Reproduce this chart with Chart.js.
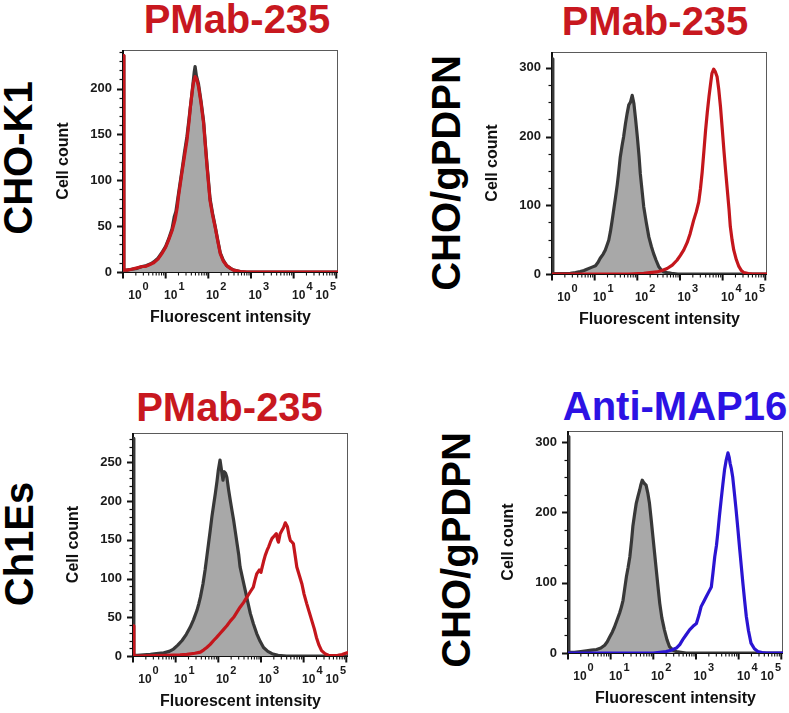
<!DOCTYPE html>
<html><head><meta charset="utf-8">
<script src="https://cdn.jsdelivr.net/npm/chart.js@4.4.0/dist/chart.umd.min.js"></script>
<style>
html,body{margin:0;padding:0;background:#fff;overflow:hidden;width:789px;height:713px;position:relative;}
.pane{position:absolute;}
.lbl{position:absolute;font-family:"Liberation Sans",Arial,Helvetica,sans-serif;font-weight:bold;font-size:40px;line-height:1;white-space:nowrap;transform:translate(-50%,-50%);}
.rot{transform:translate(-50%,-50%) rotate(-90deg);color:#000;}
.red{color:#c8181f;}
.blue{color:#2c12e4;}
</style></head><body>

<div class="lbl red" style="left:237px;top:19px;">PMab-235</div>
<div class="lbl red" style="left:655px;top:20.5px;">PMab-235</div>
<div class="lbl red" style="left:229.5px;top:406.5px;">PMab-235</div>
<div class="lbl blue" style="left:675px;top:405.5px;">Anti-MAP16</div>

<div class="lbl rot" style="left:18px;top:158px;">CHO-K1</div>
<div class="lbl rot" style="left:446px;top:172.5px;">CHO/gPDPN</div>
<div class="lbl rot" style="left:19px;top:543.5px;">Ch1Es</div>
<div class="lbl rot" style="left:456px;top:550px;">CHO/gPDPN</div>

<div class="pane" style="left:43px;top:42px;"><canvas id="c1" width="301" height="288"></canvas></div>
<div class="pane" style="left:472px;top:44px;"><canvas id="c2" width="301" height="288"></canvas></div>
<div class="pane" style="left:53px;top:425px;"><canvas id="c3" width="301" height="289"></canvas></div>
<div class="pane" style="left:488px;top:423px;"><canvas id="c4" width="301" height="288"></canvas></div>

<script>
// ---- axis description (decades of fluorescence) ----
const xDecades = [0, 1, 2, 3, 4, 5];
const xLabelExponents = [0, 1, 2, 3, 4, 5];
const xLabelAt = [0.28, 1.12, 2.1, 3.1, 4.12, 4.67];
const xMax = 5.04;
const xTitle = 'Fluorescent intensity';
const yTitle = 'Cell count';

// ---- Panel 1: CHO-K1, PMab-235 ----
const p1RedX  = [0,0.02,0.09,0.2,0.33,0.45,0.52,0.62,0.72,0.82,0.91,1.0,1.07,1.15,1.22,1.27,1.30,1.38,1.44,1.50,1.55,1.58,1.62,1.65,1.69,1.73,1.77,1.83,1.89,1.93,1.97,2.01,2.04,2.10,2.16,2.22,2.28,2.35,2.43,2.52,2.59,2.75,2.9,5.04];
const p1RedY  = [236,2,2,3,4.5,6,6,8,10,14,20,27,35,45,57,70,82,108,126,144,165,180,196,206,213,210,202,184,162,138,115,94,78,62,49,34,20,12,7,4,2,0.5,0,0];
const p1GrayX = [0,0.02,0.09,0.2,0.33,0.45,0.55,0.65,0.72,0.82,0.91,1.0,1.07,1.15,1.20,1.24,1.30,1.38,1.44,1.50,1.55,1.60,1.64,1.67,1.69,1.72,1.77,1.83,1.89,1.93,1.97,2.01,2.04,2.10,2.16,2.22,2.28,2.35,2.43,2.52,2.6,2.75,2.9,5.04];
const p1GrayY = [236,2,2,3,4,6,7,9,11,15,21,28,36,47,60,66,85,110,130,148,168,188,205,218,224,214,205,186,164,140,117,96,80,64,50,35,21,13,7,4,2,0.5,0,0];

// ---- Panel 2: CHO/gPDPN, PMab-235 ----
const p2RedX  = [0,1.8,2.15,2.3,2.46,2.58,2.70,2.82,2.93,3.01,3.09,3.17,3.24,3.32,3.38,3.44,3.48,3.52,3.56,3.60,3.64,3.68,3.72,3.75,3.79,3.83,3.87,3.91,3.95,3.99,4.03,4.07,4.11,4.15,4.18,4.22,4.26,4.32,4.38,4.44,4.50,4.6,4.7,5.04];
const p2RedY  = [0,0,1,2,3,5,8,13,20,27,35,46,59,78,90,105,124,148,178,209,235,258,278,292,298,294,287,268,243,212,180,150,122,94,69,50,35,21,11,5,2,0.5,0,0];
const p2GrayX = [0,0.02,0.1,0.25,0.43,0.55,0.66,0.75,0.82,0.94,1.02,1.08,1.13,1.20,1.25,1.33,1.37,1.41,1.45,1.49,1.53,1.56,1.60,1.64,1.68,1.72,1.76,1.80,1.84,1.88,1.92,1.96,2.0,2.04,2.07,2.11,2.15,2.21,2.27,2.33,2.38,2.44,2.50,2.56,2.62,2.7,2.8,2.95,5.04];
const p2GrayY = [313,1,0.5,0.5,1,2,3.5,5,7,10,12,17,23,29,35,49,62,78,95,112,130,146,170,186,200,218,233,246,250,260,248,225,200,172,146,122,98,75,54,40,30,20,11,6,3,2,1,0,0];

// ---- Panel 3: Ch1Es, PMab-235 ----
const p3RedX  = [0,0.02,0.1,0.5,0.8,1.1,1.26,1.45,1.58,1.66,1.73,1.81,1.89,1.96,2.04,2.12,2.20,2.28,2.36,2.44,2.51,2.59,2.67,2.75,2.82,2.86,2.90,2.96,3.00,3.02,3.06,3.10,3.14,3.18,3.22,3.26,3.31,3.36,3.39,3.41,3.45,3.49,3.53,3.57,3.62,3.66,3.69,3.73,3.76,3.80,3.84,3.90,3.96,4.01,4.07,4.13,4.19,4.25,4.30,4.36,4.42,4.5,4.58,4.7,4.8,4.9,5.0,5.04];
const p3RedY  = [39,1,0,0.5,1,1.5,2,3.5,5,8,11,15,20,24,29,34,39,45,50,57,63,69,76,83,89,98,106,111,108,113,122,130,136,141,147,152,155,158,150,147,158,162,166,172,167,155,149,147,145,130,115,104,93,80,68,57,46,35,24,14,7,3,1,0.5,1,2,4,4];
const p3GrayX = [0,0.02,0.1,0.25,0.41,0.55,0.72,0.85,0.95,1.05,1.15,1.25,1.34,1.42,1.50,1.54,1.58,1.64,1.69,1.73,1.77,1.81,1.85,1.89,1.93,1.97,2.0,2.04,2.08,2.11,2.14,2.17,2.20,2.24,2.28,2.32,2.36,2.40,2.44,2.48,2.51,2.57,2.63,2.69,2.75,2.82,2.90,2.98,3.06,3.16,3.26,3.4,3.6,5.04];
const p3GrayY = [281,1,1,1.5,2,3,4,6,9,14,20,28,37,47,59,67,76,93,111,128,145,162,180,195,210,226,240,253,238,227,238,236,231,215,201,188,175,160,145,130,115,100,85,70,55,42,29,19,11,6,3,1,0,0];

// ---- Panel 4: CHO/gPDPN, Anti-MAP16 ----
const p4BlueX = [0,2.0,2.15,2.30,2.42,2.54,2.62,2.69,2.77,2.85,2.93,3.01,3.07,3.12,3.18,3.24,3.30,3.36,3.40,3.44,3.48,3.51,3.55,3.59,3.63,3.67,3.71,3.75,3.78,3.80,3.83,3.86,3.90,3.94,3.98,4.02,4.06,4.10,4.14,4.18,4.23,4.29,4.37,4.45,4.55,4.65,5.04];
const p4BlueY = [0,0,1,2,4,7,12,19,26,33,38,42,54,66,73,80,87,94,115,137,153,170,195,218,240,261,275,285,278,270,262,251,228,204,178,151,125,99,75,52,32,14,6,2,0.5,0,0];
const p4GrayX = [0,0.02,0.15,0.3,0.43,0.55,0.67,0.77,0.86,0.92,0.98,1.04,1.09,1.15,1.21,1.25,1.29,1.33,1.37,1.41,1.45,1.49,1.52,1.56,1.60,1.64,1.68,1.71,1.74,1.78,1.83,1.87,1.91,1.95,1.99,2.03,2.07,2.11,2.15,2.20,2.26,2.32,2.38,2.46,2.54,2.65,2.77,5.04];
const p4GrayY = [308,1,1,2,3,4,5,7,11,16,23,30,37,47,57,65,75,92,109,122,137,160,180,197,213,223,232,240,246,242,239,228,213,190,166,142,118,94,71,50,33,19,9,4,2,1,0,0];

const FONT = "'Liberation Sans', Arial, Helvetica, sans-serif";
const RED = '#c4161c', BLUE = '#2a14d2', GRAY_LINE = '#383838', GRAY_FILL = '#a8a8a8';

function pts(xs, ys) { return xs.map((x, i) => ({x: x, y: ys[i]})); }

const axisDecor = {
  id: 'axisDecor',
  beforeDatasetsDraw(chart, args, opts) {
    const {ctx, chartArea: a, scales} = chart;
    const x = scales.x, y = scales.y;
    ctx.save();
    ctx.strokeStyle = '#5a5a5a';
    ctx.lineWidth = 1;
    ctx.strokeRect(a.left + 0.5, a.top + 0.5, a.right - a.left - 1, a.bottom - a.top);
    ctx.strokeStyle = '#111';
    for (let v = 0; v <= y.max + 1e-6; v += opts.minor) {
      const py = Math.round(y.getPixelForValue(v)) + 0.5;
      const major = Math.abs(v % opts.major) < 1e-6;
      ctx.lineWidth = major ? 2 : 1.2;
      const len = major ? 6 : 3.5;
      ctx.beginPath(); ctx.moveTo(a.left, py); ctx.lineTo(a.left - len, py); ctx.stroke();
    }
    xDecades.forEach(d => {
      const px = x.getPixelForValue(d);
      ctx.lineWidth = 2;
      ctx.beginPath(); ctx.moveTo(px, a.bottom); ctx.lineTo(px, a.bottom + 6.5); ctx.stroke();
      if (d < xDecades[xDecades.length - 1]) {
        ctx.lineWidth = 1.1;
        for (let k = 2; k <= 9; k++) {
          const mx = x.getPixelForValue(d + Math.log10(k));
          ctx.beginPath(); ctx.moveTo(mx, a.bottom); ctx.lineTo(mx, a.bottom + 3.5); ctx.stroke();
        }
      }
    });
    ctx.lineWidth = 2;
    ctx.beginPath();
    ctx.moveTo(a.left, a.top); ctx.lineTo(a.left, a.bottom);
    ctx.lineTo(a.right, a.bottom);
    ctx.stroke();
    ctx.fillStyle = '#1a1a1a';
    xLabelAt.forEach((p, i) => {
      const px = x.getPixelForValue(p);
      ctx.font = 'bold 12px ' + FONT;
      ctx.textAlign = 'center'; ctx.textBaseline = 'middle';
      ctx.fillText('10', px, a.bottom + 24);
      const w = ctx.measureText('10').width;
      ctx.font = 'bold 11px ' + FONT;
      ctx.textAlign = 'left';
      ctx.fillText(String(xLabelExponents[i]), px + w / 2 + 1, a.bottom + 15);
    });
    ctx.restore();
  }
};

function makeChart(id, stainX, stainY, color, grayX, grayY, yMax, major, minor) {
  return new Chart(document.getElementById(id), {
    type: 'line',
    data: {
      datasets: [
        { data: pts(stainX, stainY), borderColor: color, borderWidth: 3.2, fill: false,
          pointRadius: 0, tension: 0, borderJoinStyle: 'round' },
        { data: pts(grayX, grayY), borderColor: GRAY_LINE, backgroundColor: GRAY_FILL, borderWidth: 3.2,
          fill: 'origin', pointRadius: 0, tension: 0, borderJoinStyle: 'round' }
      ]
    },
    options: {
      responsive: false, animation: false, events: [],
      layout: { padding: { top: 8, right: 6, left: 0, bottom: 0 } },
      plugins: { legend: { display: false }, tooltip: { enabled: false },
                 axisDecor: { major: major, minor: minor } },
      scales: {
        x: { type: 'linear', min: 0, max: xMax,
             grid: { display: false, drawTicks: false }, border: { display: false },
             ticks: { display: false },
             title: { display: true, text: xTitle, color: '#111',
                      font: { family: FONT, size: 16, weight: 'bold' }, padding: { top: 0, bottom: 2.4 } },
             afterFit: s => { s.height = 58; s.paddingLeft = 0; s.paddingRight = 0; } },
        y: { type: 'linear', min: 0, max: yMax,
             grid: { display: false, drawTicks: false }, border: { display: false },
             ticks: { stepSize: major, includeBounds: false, padding: 11, color: '#1a1a1a',
                      font: { family: FONT, size: 13, weight: 'bold' },
                      callback: v => (v % major === 0 ? v : '') },
             title: { display: true, text: yTitle, color: '#111',
                      font: { family: FONT, size: 16, weight: 'bold' }, padding: { top: 11, bottom: 0 } },
             afterFit: s => { s.width = 80; s.paddingTop = 0; s.paddingBottom = 0; } }
      }
    },
    plugins: [axisDecor]
  });
}

makeChart('c1', p1RedX, p1RedY, RED, p1GrayX, p1GrayY, 242, 50, 10);
makeChart('c2', p2RedX, p2RedY, RED, p2GrayX, p2GrayY, 323, 100, 25);
makeChart('c3', p3RedX, p3RedY, RED, p3GrayX, p3GrayY, 288, 50, 10);
makeChart('c4', p4BlueX, p4BlueY, BLUE, p4GrayX, p4GrayY, 316, 100, 25);
</script>
</body></html>
